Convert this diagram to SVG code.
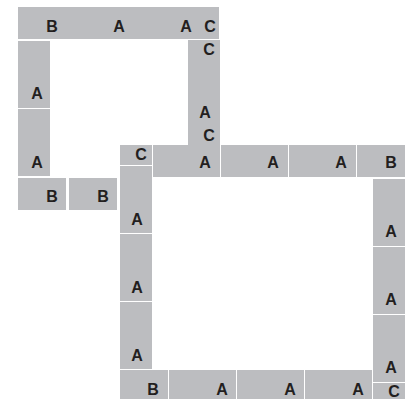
<svg xmlns="http://www.w3.org/2000/svg" width="414" height="399" viewBox="0 0 414 399">
<style>
rect{fill:#bcbdc0}
text{font-family:"Liberation Sans",Arial,sans-serif;font-weight:bold;font-size:16px;fill:#231f20;text-anchor:middle}
</style>
<rect x="0" y="0" width="414" height="399" style="fill:#ffffff"/>
<!-- upper loop -->
<g id="u-top-B"><rect x="18" y="7" width="48" height="32"/><text x="52" y="32">B</text></g>
<g id="u-top-A1"><rect x="66" y="7" width="67" height="32"/><text x="119" y="32">A</text></g>
<g id="u-top-A2"><rect x="133" y="7" width="67" height="32"/><text x="186" y="32">A</text></g>
<g id="u-top-C"><rect x="200" y="7" width="19" height="32"/><text x="210" y="32">C</text></g>
<g id="u-right-C1"><rect x="188" y="40" width="32" height="19"/><text x="209" y="55">C</text></g>
<g id="u-right-A"><rect x="188" y="59" width="32" height="67"/><text x="205" y="118">A</text></g>
<g id="u-right-C2"><rect x="188" y="126" width="32" height="19"/><text x="209" y="141">C</text></g>
<g id="u-left-A1"><rect x="18" y="41" width="32" height="67"/><text x="37" y="99">A</text></g>
<g id="u-left-A2"><rect x="18" y="109" width="32" height="67"/><text x="37" y="168">A</text></g>
<g id="u-bot-B1"><rect x="18" y="178" width="48" height="32"/><text x="52" y="202">B</text></g>
<g id="u-bot-B2"><rect x="69" y="178" width="48" height="32"/><text x="103" y="202">B</text></g>
<!-- lower loop -->
<g id="l-C"><rect x="120" y="145" width="32" height="20"/><text x="141" y="160">C</text></g>
<g id="l-top-A1"><rect x="153" y="145" width="67" height="32"/><text x="205" y="168">A</text></g>
<g id="l-top-A2"><rect x="221" y="145" width="67" height="32"/><text x="273" y="168">A</text></g>
<g id="l-top-A3"><rect x="289" y="145" width="67" height="32"/><text x="341" y="168">A</text></g>
<g id="l-top-B"><rect x="357" y="145" width="48" height="32"/><text x="391" y="168">B</text></g>
<g id="l-right-A1"><rect x="373" y="179" width="32" height="67"/><text x="391" y="237">A</text></g>
<g id="l-right-A2"><rect x="373" y="247" width="32" height="67"/><text x="391" y="305">A</text></g>
<g id="l-right-A3"><rect x="373" y="315" width="32" height="67"/><text x="391" y="373">A</text></g>
<g id="l-right-C"><rect x="373" y="383" width="32" height="19"/><text x="394" y="397">C</text></g>
<g id="l-left-A1"><rect x="120" y="166" width="32" height="67"/><text x="137" y="225">A</text></g>
<g id="l-left-A2"><rect x="120" y="234" width="32" height="67"/><text x="137" y="293">A</text></g>
<g id="l-left-A3"><rect x="120" y="302" width="32" height="67"/><text x="137" y="361">A</text></g>
<g id="l-bot-B"><rect x="120" y="370" width="48" height="32"/><text x="153" y="395">B</text></g>
<g id="l-bot-A1"><rect x="169" y="370" width="67" height="32"/><text x="222" y="395">A</text></g>
<g id="l-bot-A2"><rect x="237" y="370" width="67" height="32"/><text x="290" y="395">A</text></g>
<g id="l-bot-A3"><rect x="305" y="370" width="67" height="32"/><text x="358" y="395">A</text></g>
<g id="connectors"></g>
</svg>
